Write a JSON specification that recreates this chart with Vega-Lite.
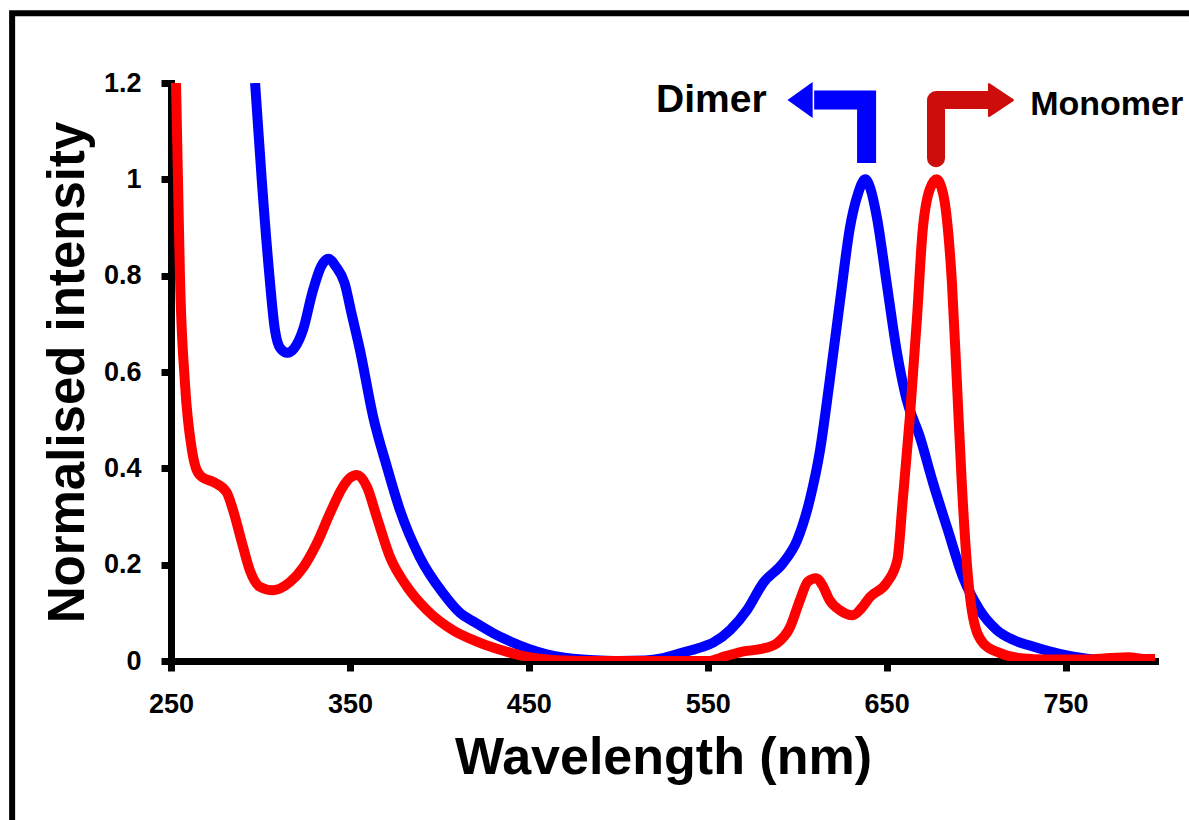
{
  "$schema": "https://vega.github.io/schema/vega-lite/v6.json",
  "width": 984,
  "height": 578,
  "autosize": "none",
  "padding": {"left": 171, "top": 83, "right": 34, "bottom": 159},
  "background": "white",
  "config": {
    "view": {"stroke": null},
    "font": "Liberation Sans",
    "axis": {
      "grid": false,
      "domainColor": "black",
      "domainWidth": 7,
      "domainCap": "square",
      "tickColor": "black",
      "tickWidth": 7,
      "tickSize": 10,
      "labelFont": "Liberation Sans",
      "labelFontSize": 27,
      "labelFontWeight": "bold",
      "labelColor": "black",
      "labelPadding": 20,
      "labelFlush": false,
      "labelOverlap": false,
      "titleFont": "Liberation Sans",
      "titleFontWeight": "bold",
      "titleColor": "black"
    }
  },
  "datasets": {
    "spectra": [
      {"series": "Dimer", "nm": 297, "v": 1.2},
      {"series": "Dimer", "nm": 300.7, "v": 1.0},
      {"series": "Dimer", "nm": 305, "v": 0.8},
      {"series": "Dimer", "nm": 308, "v": 0.69},
      {"series": "Dimer", "nm": 311, "v": 0.65},
      {"series": "Dimer", "nm": 315, "v": 0.64},
      {"series": "Dimer", "nm": 319, "v": 0.65},
      {"series": "Dimer", "nm": 324, "v": 0.69},
      {"series": "Dimer", "nm": 329, "v": 0.765},
      {"series": "Dimer", "nm": 334, "v": 0.82},
      {"series": "Dimer", "nm": 338, "v": 0.835},
      {"series": "Dimer", "nm": 342, "v": 0.82},
      {"series": "Dimer", "nm": 347, "v": 0.785},
      {"series": "Dimer", "nm": 351, "v": 0.72},
      {"series": "Dimer", "nm": 355.6, "v": 0.646},
      {"series": "Dimer", "nm": 363, "v": 0.507},
      {"series": "Dimer", "nm": 370.7, "v": 0.403},
      {"series": "Dimer", "nm": 378, "v": 0.313},
      {"series": "Dimer", "nm": 389, "v": 0.216},
      {"series": "Dimer", "nm": 402, "v": 0.141},
      {"series": "Dimer", "nm": 411.5, "v": 0.1},
      {"series": "Dimer", "nm": 420, "v": 0.08},
      {"series": "Dimer", "nm": 430, "v": 0.058},
      {"series": "Dimer", "nm": 440, "v": 0.04},
      {"series": "Dimer", "nm": 450, "v": 0.025},
      {"series": "Dimer", "nm": 460, "v": 0.014},
      {"series": "Dimer", "nm": 470, "v": 0.007},
      {"series": "Dimer", "nm": 480, "v": 0.003},
      {"series": "Dimer", "nm": 490, "v": 0.001},
      {"series": "Dimer", "nm": 500, "v": 0},
      {"series": "Dimer", "nm": 515, "v": 0.001},
      {"series": "Dimer", "nm": 525, "v": 0.006},
      {"series": "Dimer", "nm": 534.5, "v": 0.016},
      {"series": "Dimer", "nm": 545, "v": 0.027},
      {"series": "Dimer", "nm": 553, "v": 0.038},
      {"series": "Dimer", "nm": 562.5, "v": 0.064},
      {"series": "Dimer", "nm": 572, "v": 0.106},
      {"series": "Dimer", "nm": 581, "v": 0.162},
      {"series": "Dimer", "nm": 592, "v": 0.203},
      {"series": "Dimer", "nm": 600, "v": 0.251},
      {"series": "Dimer", "nm": 607, "v": 0.334},
      {"series": "Dimer", "nm": 612.8, "v": 0.438},
      {"series": "Dimer", "nm": 618, "v": 0.577},
      {"series": "Dimer", "nm": 624, "v": 0.749},
      {"series": "Dimer", "nm": 629.5, "v": 0.9},
      {"series": "Dimer", "nm": 634, "v": 0.97},
      {"series": "Dimer", "nm": 638, "v": 1.0},
      {"series": "Dimer", "nm": 641, "v": 0.98},
      {"series": "Dimer", "nm": 644.6, "v": 0.92},
      {"series": "Dimer", "nm": 650, "v": 0.785},
      {"series": "Dimer", "nm": 655.8, "v": 0.64},
      {"series": "Dimer", "nm": 661, "v": 0.545},
      {"series": "Dimer", "nm": 668.6, "v": 0.465},
      {"series": "Dimer", "nm": 676, "v": 0.369},
      {"series": "Dimer", "nm": 683.7, "v": 0.278},
      {"series": "Dimer", "nm": 692.7, "v": 0.174},
      {"series": "Dimer", "nm": 702, "v": 0.106},
      {"series": "Dimer", "nm": 711.7, "v": 0.064},
      {"series": "Dimer", "nm": 720, "v": 0.045},
      {"series": "Dimer", "nm": 730, "v": 0.032},
      {"series": "Dimer", "nm": 741, "v": 0.02},
      {"series": "Dimer", "nm": 750, "v": 0.012},
      {"series": "Dimer", "nm": 763, "v": 0.004},
      {"series": "Dimer", "nm": 780, "v": 0},
      {"series": "Dimer", "nm": 800, "v": 0},
      {"series": "Monomer", "nm": 252.8, "v": 1.2},
      {"series": "Monomer", "nm": 253.9, "v": 1.0},
      {"series": "Monomer", "nm": 255, "v": 0.8},
      {"series": "Monomer", "nm": 257.8, "v": 0.577},
      {"series": "Monomer", "nm": 261.7, "v": 0.438},
      {"series": "Monomer", "nm": 264, "v": 0.4},
      {"series": "Monomer", "nm": 267.3, "v": 0.382},
      {"series": "Monomer", "nm": 273.5, "v": 0.372},
      {"series": "Monomer", "nm": 281, "v": 0.351},
      {"series": "Monomer", "nm": 284.7, "v": 0.313},
      {"series": "Monomer", "nm": 289.7, "v": 0.245},
      {"series": "Monomer", "nm": 294, "v": 0.189},
      {"series": "Monomer", "nm": 299.7, "v": 0.154},
      {"series": "Monomer", "nm": 307, "v": 0.147},
      {"series": "Monomer", "nm": 316.5, "v": 0.164},
      {"series": "Monomer", "nm": 324, "v": 0.195},
      {"series": "Monomer", "nm": 331.6, "v": 0.245},
      {"series": "Monomer", "nm": 338.9, "v": 0.307},
      {"series": "Monomer", "nm": 346, "v": 0.361},
      {"series": "Monomer", "nm": 350, "v": 0.38},
      {"series": "Monomer", "nm": 354, "v": 0.386},
      {"series": "Monomer", "nm": 359.6, "v": 0.361},
      {"series": "Monomer", "nm": 365, "v": 0.299},
      {"series": "Monomer", "nm": 372.4, "v": 0.216},
      {"series": "Monomer", "nm": 382, "v": 0.154},
      {"series": "Monomer", "nm": 393, "v": 0.106},
      {"series": "Monomer", "nm": 407.6, "v": 0.064},
      {"series": "Monomer", "nm": 420, "v": 0.042},
      {"series": "Monomer", "nm": 430, "v": 0.028},
      {"series": "Monomer", "nm": 440, "v": 0.017},
      {"series": "Monomer", "nm": 450, "v": 0.008},
      {"series": "Monomer", "nm": 460, "v": 0.003},
      {"series": "Monomer", "nm": 470, "v": 0.001},
      {"series": "Monomer", "nm": 480, "v": 0},
      {"series": "Monomer", "nm": 550, "v": 0},
      {"series": "Monomer", "nm": 560, "v": 0.01},
      {"series": "Monomer", "nm": 570, "v": 0.02},
      {"series": "Monomer", "nm": 580, "v": 0.025},
      {"series": "Monomer", "nm": 588.7, "v": 0.037},
      {"series": "Monomer", "nm": 596, "v": 0.07},
      {"series": "Monomer", "nm": 601.6, "v": 0.127},
      {"series": "Monomer", "nm": 606, "v": 0.165},
      {"series": "Monomer", "nm": 610.5, "v": 0.172},
      {"series": "Monomer", "nm": 614, "v": 0.158},
      {"series": "Monomer", "nm": 618, "v": 0.127},
      {"series": "Monomer", "nm": 624, "v": 0.105},
      {"series": "Monomer", "nm": 631, "v": 0.095},
      {"series": "Monomer", "nm": 636, "v": 0.11},
      {"series": "Monomer", "nm": 640.7, "v": 0.133},
      {"series": "Monomer", "nm": 650, "v": 0.162},
      {"series": "Monomer", "nm": 656, "v": 0.21},
      {"series": "Monomer", "nm": 659, "v": 0.334},
      {"series": "Monomer", "nm": 663, "v": 0.507},
      {"series": "Monomer", "nm": 667, "v": 0.714},
      {"series": "Monomer", "nm": 670, "v": 0.888},
      {"series": "Monomer", "nm": 674, "v": 0.978},
      {"series": "Monomer", "nm": 678, "v": 1.0},
      {"series": "Monomer", "nm": 680.5, "v": 0.985},
      {"series": "Monomer", "nm": 682.6, "v": 0.95},
      {"series": "Monomer", "nm": 686.5, "v": 0.785},
      {"series": "Monomer", "nm": 689.3, "v": 0.577},
      {"series": "Monomer", "nm": 692, "v": 0.369},
      {"series": "Monomer", "nm": 695, "v": 0.195},
      {"series": "Monomer", "nm": 698.3, "v": 0.091},
      {"series": "Monomer", "nm": 704, "v": 0.037},
      {"series": "Monomer", "nm": 713, "v": 0.017},
      {"series": "Monomer", "nm": 725, "v": 0.006},
      {"series": "Monomer", "nm": 740, "v": 0.003},
      {"series": "Monomer", "nm": 760, "v": 0.003},
      {"series": "Monomer", "nm": 775, "v": 0.006},
      {"series": "Monomer", "nm": 785, "v": 0.008},
      {"series": "Monomer", "nm": 795, "v": 0.004},
      {"series": "Monomer", "nm": 800, "v": 0.004}
    ],
    "dimerArrow": [
      {"i": 0, "nm": 638.8, "v": 1.034},
      {"i": 1, "nm": 638.8, "v": 1.1646},
      {"i": 2, "nm": 609.5, "v": 1.1646}
    ],
    "monomerArrow": [
      {"i": 0, "nm": 677.6, "v": 1.044},
      {"i": 1, "nm": 677.6, "v": 1.1646},
      {"i": 2, "nm": 707.2, "v": 1.1646}
    ],
    "labels": [
      {"text": "Dimer", "nm": 552, "v": 1.1397},
      {"text": "Monomer", "nm": 773, "v": 1.1335}
    ],
    "frame": [
      {"x0": 161.2, "x1": 830, "y0": 1.345, "y1": -0.4}
    ]
  },
  "layer": [
    {
      "data": {"name": "frame"},
      "mark": {"type": "rect", "fillOpacity": 0, "fill": "white", "stroke": "black", "strokeWidth": 6, "clip": false},
      "encoding": {
        "x": {"field": "x0", "type": "quantitative", "scale": {"domain": [250, 800], "nice": false, "zero": false}},
        "x2": {"field": "x1"},
        "y": {"field": "y0", "type": "quantitative", "scale": {"domain": [0, 1.2], "nice": false}},
        "y2": {"field": "y1"}
      }
    },
    {
      "data": {"name": "spectra"},
      "mark": {"type": "line", "strokeWidth": 10, "interpolate": "monotone", "clip": true, "strokeCap": "butt"},
      "encoding": {
        "x": {
          "field": "nm", "type": "quantitative",
          "scale": {"domain": [250, 800], "nice": false, "zero": false},
          "axis": {
            "title": "Wavelength (nm)",
            "titleFontSize": 52,
            "titlePadding": 15,
            "values": [250, 350, 450, 550, 650, 750]
          }
        },
        "y": {
          "field": "v", "type": "quantitative",
          "scale": {"domain": [0, 1.2], "nice": false},
          "axis": {
            "title": "Normalised intensity",
            "titleFontSize": 51,
            "titleBaseline": "alphabetic",
            "titlePadding": 20,
            "values": [0, 0.2, 0.4, 0.6, 0.8, 1, 1.2],
            "labelExpr": "'' + datum.value"
          }
        },
        "color": {
          "field": "series", "type": "nominal",
          "scale": {"domain": ["Dimer", "Monomer"], "range": ["#0000ff", "#ff0000"]},
          "legend": null
        },
        "order": {"field": "nm", "type": "quantitative"}
      }
    },
    {
      "data": {"name": "dimerArrow"},
      "mark": {"type": "line", "color": "#0000ff", "strokeWidth": 19, "strokeJoin": "miter", "strokeCap": "butt", "clip": false},
      "encoding": {
        "x": {"field": "nm", "type": "quantitative", "scale": {"domain": [250, 800], "nice": false, "zero": false}},
        "y": {"field": "v", "type": "quantitative", "scale": {"domain": [0, 1.2], "nice": false}},
        "order": {"field": "i", "type": "quantitative"}
      }
    },
    {
      "data": {"name": "monomerArrow"},
      "mark": {"type": "line", "color": "#cd0c0c", "strokeWidth": 18, "strokeJoin": "round", "strokeCap": "round", "clip": false},
      "encoding": {
        "x": {"field": "nm", "type": "quantitative", "scale": {"domain": [250, 800], "nice": false, "zero": false}},
        "y": {"field": "v", "type": "quantitative", "scale": {"domain": [0, 1.2], "nice": false}},
        "order": {"field": "i", "type": "quantitative"}
      }
    },
    {
      "data": {"values": [{"nm": 601.6, "v": 1.1646}]},
      "mark": {"type": "point", "filled": true, "opacity": 1, "color": "#0000ff", "shape": "M-0.7,0L0.7,-1L0.7,1Z", "size": 1296, "clip": false},
      "encoding": {
        "x": {"field": "nm", "type": "quantitative", "scale": {"domain": [250, 800], "nice": false, "zero": false}},
        "y": {"field": "v", "type": "quantitative", "scale": {"domain": [0, 1.2], "nice": false}}
      }
    },
    {
      "data": {"values": [{"nm": 713.9, "v": 1.1646}]},
      "mark": {"type": "point", "filled": true, "opacity": 1, "color": "#cd0c0c", "shape": "M0.75,0L-0.75,-1L-0.75,1Z", "size": 1024, "strokeJoin": "round", "stroke": "#cd0c0c", "strokeWidth": 2, "clip": false},
      "encoding": {
        "x": {"field": "nm", "type": "quantitative", "scale": {"domain": [250, 800], "nice": false, "zero": false}},
        "y": {"field": "v", "type": "quantitative", "scale": {"domain": [0, 1.2], "nice": false}}
      }
    },
    {
      "data": {"name": "labels"},
      "transform": [{"filter": "datum.text == 'Dimer'"}],
      "mark": {"type": "text", "font": "Liberation Sans", "fontWeight": "bold", "fontSize": 39, "align": "center", "baseline": "alphabetic", "color": "black", "clip": false},
      "encoding": {
        "x": {"field": "nm", "type": "quantitative", "scale": {"domain": [250, 800], "nice": false, "zero": false}},
        "y": {"field": "v", "type": "quantitative", "scale": {"domain": [0, 1.2], "nice": false}},
        "text": {"field": "text"}
      }
    },
    {
      "data": {"name": "labels"},
      "transform": [{"filter": "datum.text == 'Monomer'"}],
      "mark": {"type": "text", "font": "Liberation Sans", "fontWeight": "bold", "fontSize": 34, "align": "center", "baseline": "alphabetic", "color": "black", "clip": false},
      "encoding": {
        "x": {"field": "nm", "type": "quantitative", "scale": {"domain": [250, 800], "nice": false, "zero": false}},
        "y": {"field": "v", "type": "quantitative", "scale": {"domain": [0, 1.2], "nice": false}},
        "text": {"field": "text"}
      }
    }
  ]
}
